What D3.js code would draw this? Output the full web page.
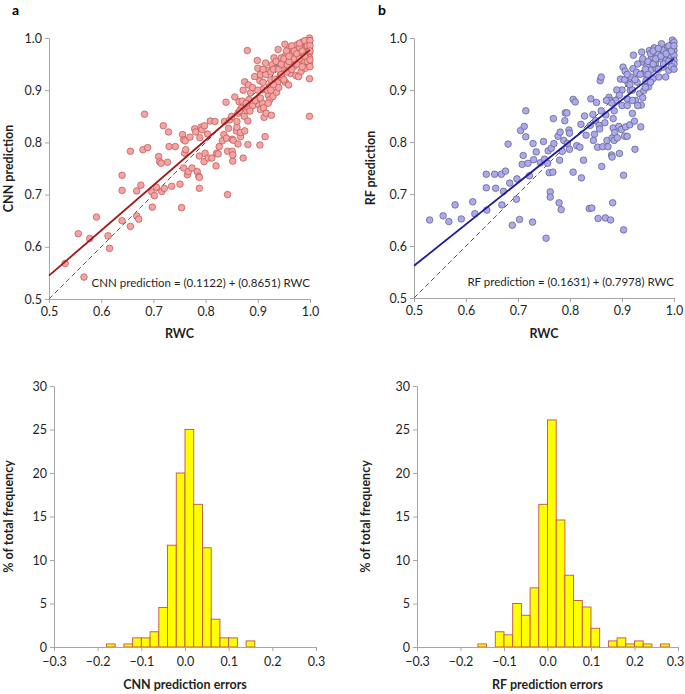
<!DOCTYPE html>
<html>
<head>
<meta charset="utf-8">
<script src="https://cdn.jsdelivr.net/npm/d3@7"></script>
<style>
  body { margin: 0; background: #fff; }
  svg { display: block; font-family: Lato, "Open Sans", sans-serif; }
</style>
</head>
<body>
<svg id="chart" width="685" height="694"></svg>
<script>
// ---------- DATA ----------
// Panel a: CNN prediction vs RWC  [RWC, prediction]
const cnnPoints = [
[0.531,0.568],[0.556,0.625],[0.567,0.542],[0.578,0.616],[0.591,0.657],[0.613,0.621],[0.616,0.597],
[0.640,0.737],[0.640,0.708],[0.640,0.650],[0.656,0.639],[0.656,0.783],[0.668,0.707],[0.668,0.659],
[0.672,0.653],[0.676,0.718],[0.680,0.786],[0.683,0.854],[0.689,0.790],[0.698,0.676],[0.697,0.705],
[0.702,0.698],[0.706,0.714],[0.710,0.773],[0.712,0.763],[0.715,0.760],[0.716,0.706],[0.719,0.832],
[0.721,0.712],[0.727,0.762],[0.729,0.820],[0.730,0.792],[0.735,0.716],[0.742,0.792],[0.751,0.720],
[0.754,0.675],[0.756,0.815],[0.758,0.805],[0.758,0.751],[0.760,0.779],[0.761,0.803],[0.762,0.786],
[0.765,0.738],[0.767,0.744],[0.770,0.810],[0.774,0.751],[0.779,0.826],[0.781,0.820],[0.784,0.744],
[0.787,0.735],[0.788,0.774],[0.788,0.712],[0.788,0.733],[0.789,0.809],[0.791,0.829],[0.793,0.824],
[0.797,0.763],[0.798,0.832],[0.799,0.779],[0.804,0.816],[0.805,0.770],[0.809,0.841],[0.812,0.770],
[0.818,0.840],[0.820,0.755],[0.821,0.779],[0.824,0.778],[0.826,0.792],[0.832,0.803],[0.835,0.815],
[0.836,0.840],[0.839,0.877],[0.840,0.808],[0.842,0.783],[0.842,0.700],[0.844,0.827],[0.846,0.843],
[0.850,0.850],[0.851,0.783],[0.851,0.806],[0.852,0.764],[0.852,0.776],[0.853,0.804],[0.856,0.887],
[0.859,0.822],[0.860,0.829],[0.862,0.797],[0.862,0.856],[0.864,0.878],[0.867,0.811],[0.867,0.819],
[0.870,0.879],[0.872,0.770],[0.875,0.822],[0.874,0.850],[0.875,0.916],[0.879,0.861],[0.880,0.976],
[0.881,0.796],[0.881,0.841],[0.882,0.910],[0.883,0.882],[0.883,0.866],[0.886,0.895],[0.890,0.870],
[0.894,0.926],[0.899,0.957],[0.900,0.942],[0.902,0.872],[0.904,0.918],[0.904,0.795],[0.905,0.863],
[0.909,0.901],[0.909,0.875],[0.911,0.866],[0.912,0.848],[0.914,0.811],[0.915,0.952],[0.916,0.856],
[0.920,0.891],[0.920,0.938],[0.922,0.907],[0.923,0.882],[0.925,0.920],[0.926,0.852],[0.928,0.949],
[0.929,0.888],[0.931,0.962],[0.933,0.921],[0.935,0.942],[0.936,0.896],[0.938,0.914],[0.939,0.978],
[0.941,0.952],[0.943,0.928],[0.945,0.962],[0.947,0.923],[0.949,0.939],[0.952,0.988],[0.953,0.915],
[0.953,0.966],[0.956,0.949],[0.959,0.910],[0.961,0.981],[0.963,0.932],[0.965,0.958],[0.967,0.971],
[0.970,0.946],[0.973,0.928],[0.975,0.987],[0.976,0.965],[0.978,0.926],[0.980,0.981],[0.981,0.952],
[0.983,0.936],[0.985,0.992],[0.987,0.971],[0.989,0.955],[0.991,0.942],[0.993,0.984],[0.994,0.965],
[0.997,0.974],[0.999,1.000],[0.999,0.990],[0.999,0.981],[0.999,0.971],[0.999,0.962],[0.999,0.952],
[0.999,0.922],[0.999,0.850],[0.996,0.994],
[0.905,0.930],[0.910,0.915],[0.915,0.930],[0.918,0.900],[0.920,0.875],[0.925,0.935],[0.930,0.910],
[0.930,0.940],[0.935,0.955],[0.940,0.940],[0.940,0.905],[0.945,0.950],[0.945,0.930],[0.950,0.960],
[0.950,0.920],[0.955,0.975],[0.955,0.935],[0.960,0.955],[0.960,0.965],[0.965,0.940],[0.965,0.985],
[0.970,0.960],[0.970,0.975],[0.975,0.950],[0.975,0.970],[0.980,0.960],[0.980,0.990],[0.985,0.975],
[0.985,0.945],[0.990,0.965],[0.990,0.995],[0.995,0.955],[0.995,0.985],[1.000,0.995],[1.000,0.985],
[1.000,0.975],[1.000,0.958],[1.000,0.945],[0.890,0.905],[0.895,0.880],[0.885,0.860],[0.878,0.875],
[0.872,0.900],[0.868,0.865],[0.860,0.840],[0.865,0.860],[0.900,0.900],[0.905,0.885],[0.910,0.940],
[0.925,0.900]
];
// Panel b: RF prediction vs RWC  [RWC, prediction]
const rfPoints = [
[0.530,0.650],[0.556,0.658],[0.567,0.647],[0.579,0.679],[0.591,0.652],[0.613,0.685],[0.617,0.662],
[0.639,0.738],[0.639,0.712],[0.640,0.669],[0.655,0.738],[0.657,0.711],[0.668,0.738],[0.669,0.679],
[0.672,0.705],[0.676,0.744],[0.681,0.796],[0.684,0.721],[0.689,0.640],[0.697,0.690],[0.698,0.729],
[0.703,0.651],[0.705,0.822],[0.708,0.757],[0.710,0.774],[0.712,0.830],[0.715,0.860],[0.715,0.810],
[0.719,0.759],[0.722,0.735],[0.728,0.646],[0.729,0.797],[0.730,0.766],[0.735,0.781],[0.743,0.760],
[0.749,0.801],[0.751,0.767],[0.754,0.615],[0.757,0.759],[0.758,0.783],[0.760,0.741],[0.762,0.704],
[0.762,0.694],[0.764,0.788],[0.767,0.742],[0.768,0.845],[0.769,0.797],[0.777,0.811],[0.779,0.683],
[0.780,0.765],[0.781,0.819],[0.783,0.670],[0.785,0.782],[0.788,0.803],[0.790,0.841],[0.791,0.856],
[0.794,0.856],[0.795,0.797],[0.798,0.823],[0.799,0.786],[0.799,0.817],[0.806,0.882],[0.806,0.742],
[0.810,0.877],[0.813,0.793],[0.819,0.790],[0.821,0.834],[0.822,0.731],[0.826,0.765],[0.828,0.850],
[0.831,0.813],[0.837,0.672],[0.839,0.832],[0.840,0.883],[0.842,0.673],[0.844,0.853],[0.845,0.803],
[0.847,0.815],[0.849,0.841],[0.851,0.876],[0.853,0.790],[0.854,0.653],[0.856,0.832],[0.857,0.825],
[0.858,0.918],[0.860,0.925],[0.861,0.753],[0.863,0.791],[0.867,0.837],[0.868,0.654],[0.869,0.852],
[0.871,0.803],[0.873,0.791],[0.875,0.886],[0.876,0.880],[0.878,0.650],[0.880,0.775],[0.881,0.808],
[0.881,0.771],[0.882,0.683],[0.883,0.845],[0.883,0.827],[0.885,0.803],[0.886,0.818],[0.888,0.880],
[0.891,0.808],[0.894,0.830],[0.895,0.778],[0.897,0.921],[0.899,0.824],[0.902,0.944],[0.903,0.736],
[0.903,0.631],[0.905,0.811],[0.906,0.936],[0.907,0.829],[0.910,0.883],[0.910,0.811],[0.912,0.912],
[0.915,0.833],[0.916,0.899],[0.917,0.925],[0.920,0.855],[0.921,0.941],[0.922,0.967],[0.924,0.840],
[0.925,0.786],[0.926,0.880],[0.928,0.934],[0.929,0.915],[0.934,0.893],[0.936,0.829],[0.937,0.871],
[0.938,0.973],[0.939,0.954],[0.942,0.899],[0.944,0.931],[0.946,0.918],[0.948,0.947],[0.951,0.906],
[0.953,0.976],[0.955,0.938],[0.957,0.963],[0.960,0.922],[0.962,0.981],[0.964,0.950],[0.966,0.941],
[0.969,0.969],[0.971,0.925],[0.974,0.960],[0.976,0.989],[0.979,0.944],[0.980,0.976],[0.984,0.925],
[0.985,0.957],[0.988,0.983],[0.990,0.938],[0.993,0.966],[0.997,0.996],[1.000,0.976],[1.000,0.967],
[1.000,0.957],[1.000,0.950],[1.000,0.992],
[0.900,0.900],[0.905,0.920],[0.910,0.930],[0.915,0.910],[0.920,0.900],[0.925,0.920],[0.930,0.950],
[0.935,0.930],[0.940,0.960],[0.945,0.940],[0.950,0.955],[0.950,0.930],[0.955,0.970],[0.960,0.950],
[0.960,0.975],[0.965,0.960],[0.970,0.980],[0.970,0.940],[0.975,0.965],[0.980,0.950],[0.985,0.970],
[0.990,0.985],[0.990,0.955],[0.995,0.975],[0.995,0.945],[1.000,0.985],[1.000,0.940],[0.880,0.875],
[0.885,0.860],[0.890,0.900],[0.895,0.890],[0.900,0.870],[0.860,0.860],[0.870,0.880],[0.910,0.870],
[0.920,0.880],[0.930,0.870],[0.940,0.885],[0.945,0.905],[0.955,0.915]
];
// Regression coefficients [intercept, slope]
const cnnFit = [0.1122, 0.8651];
const rfFit = [0.1631, 0.7978];
const scatterTicks = [0.5, 0.6, 0.7, 0.8, 0.9, 1.0];

// Histograms: bin start (width 0.02) and % of total frequency
const binWidth = 0.02;
const cnnBinStarts = [-0.18,-0.16,-0.14,-0.12,-0.10,-0.08,-0.06,-0.04,-0.02,0.00,0.02,0.04,0.06,0.08,0.10,0.12,0.14];
const cnnFreq      = [0.35, 0,    0.35, 1.05, 1.05, 1.75, 4.55, 11.7, 20.0, 25.0, 16.4, 11.4, 3.2,  1.05, 1.05, 0,    0.7];
const rfBinStarts = [-0.16,-0.14,-0.12,-0.10,-0.08,-0.06,-0.04,-0.02,0.00,0.02,0.04,0.06,0.08,0.10,0.12,0.14,0.16,0.18,0.20,0.22,0.24,0.26];
const rfFreq      = [0.35, 0,    1.75, 1.4,  5.0,  3.65, 6.8,  16.4, 26.1, 14.6, 8.25, 5.35, 4.6,  2.15, 0,    0.7,  1.05, 0.35, 0.7,  0.35, 0,    0.35];
const histXTicks = [-0.3,-0.2,-0.1,0.0,0.1,0.2,0.3];
const histYTicks = [0,5,10,15,20,25,30];

// ---------- DRAW ----------
const svg = d3.select("#chart");
const axisColor = "#a6a6a6";
const textColor = "#1f1f1f";
const fmt1 = d3.format(".1f");

function styleAxis(g) {
  g.select(".domain").attr("stroke", axisColor).attr("stroke-width", 1);
  g.selectAll(".tick line").attr("stroke", axisColor);
  g.selectAll(".tick text").attr("fill", textColor).style("font-size", "12.5px")
    .style("font-family", "Lato, 'Open Sans', sans-serif");
}

function scatter(opts) {
  const x = d3.scaleLinear().domain([0.5, 1.0]).range(opts.xr);
  const y = d3.scaleLinear().domain([0.5, 1.0]).range(opts.yr);
  const g = svg.append("g");

  const gx = g.append("g").attr("transform", `translate(0,${opts.yr[0]})`)
    .call(d3.axisBottom(x).tickValues(scatterTicks).tickFormat(fmt1).tickSize(4).tickSizeOuter(0).tickPadding(4));
  styleAxis(gx);
  const gy = g.append("g").attr("transform", `translate(${opts.xr[0]},0)`)
    .call(d3.axisLeft(y).tickValues(scatterTicks).tickFormat(fmt1).tickSize(4).tickSizeOuter(0).tickPadding(3));
  styleAxis(gy);

  // 1:1 dashed line
  g.append("line")
    .attr("x1", x(0.5)).attr("y1", y(0.5)).attr("x2", x(1.0)).attr("y2", y(1.0))
    .attr("stroke", "#595959").attr("stroke-width", 1).attr("stroke-dasharray", "5,3");

  // points
  g.append("g").selectAll("circle").data(opts.data).join("circle")
    .attr("cx", d => x(d[0])).attr("cy", d => y(d[1])).attr("r", 3.3)
    .attr("fill", opts.fill).attr("stroke", opts.stroke).attr("stroke-width", 0.7);

  // regression line
  g.append("line")
    .attr("x1", x(0.5)).attr("y1", y(opts.fit[0] + opts.fit[1] * 0.5))
    .attr("x2", x(1.0)).attr("y2", y(opts.fit[0] + opts.fit[1] * 1.0))
    .attr("stroke", opts.lineColor).attr("stroke-width", 1.8);

  // equation
  g.append("text").attr("x", x(1.0)).attr("y", y(0.5) - 12)
    .attr("text-anchor", "end").attr("fill", textColor).style("font-size", "11.5px")
    .text(opts.eq);

  // axis titles
  g.append("text").attr("x", (opts.xr[0] + opts.xr[1]) / 2).attr("y", 338)
    .attr("text-anchor", "middle").attr("fill", textColor)
    .style("font-size", "12.5px").style("font-weight", "bold").text("RWC");
  g.append("text")
    .attr("transform", `translate(${opts.ytx},${(opts.yr[0] + opts.yr[1]) / 2}) rotate(-90)`)
    .attr("text-anchor", "middle").attr("fill", textColor)
    .style("font-size", "12.5px").style("font-weight", "bold").text(opts.ylabel);

  // panel label
  g.append("text").attr("x", opts.lx).attr("y", 15).attr("fill", "#000")
    .style("font-size", "14px").style("font-weight", "bold").text(opts.label);
}

scatter({ xr: [49, 310], yr: [299, 38], data: cnnPoints, fit: cnnFit,
  fill: "#f5a3a3", stroke: "#b85450", lineColor: "#a01818",
  eq: "CNN prediction = (0.1122) + (0.8651) RWC", ylabel: "CNN prediction", ytx: 13, label: "a", lx: 12 });
scatter({ xr: [414, 674], yr: [298, 38], data: rfPoints, fit: rfFit,
  fill: "#abaaf0", stroke: "#5a5a78", lineColor: "#1c1c96",
  eq: "RF prediction = (0.1631) + (0.7978) RWC", ylabel: "RF prediction", ytx: 375, label: "b", lx: 378 });

function hist(opts) {
  const x = d3.scaleLinear().domain([-0.3, 0.3]).range(opts.xr);
  const y = d3.scaleLinear().domain([0, 30]).range(opts.yr);
  const g = svg.append("g");
  const data = opts.starts.map((s, i) => ({ s, v: opts.freq[i] })).filter(d => d.v > 0);

  g.append("g").selectAll("rect").data(data).join("rect")
    .attr("x", d => x(d.s)).attr("width", d => x(d.s + binWidth) - x(d.s))
    .attr("y", d => y(d.v)).attr("height", d => y(0) - y(d.v))
    .attr("fill", "#ffff00").attr("stroke", "#c0504d").attr("stroke-width", 0.9);

  const gx = g.append("g").attr("transform", `translate(0,${opts.yr[0]})`)
    .call(d3.axisBottom(x).tickValues(histXTicks).tickFormat(fmt1).tickSize(4).tickSizeOuter(0).tickPadding(6));
  styleAxis(gx);
  // keep the last tick label inside the picture
  gx.selectAll(".tick text").filter(d => d === 0.3 && opts.xr[1] > 600).attr("dx", "-3");
  const gy = g.append("g").attr("transform", `translate(${opts.xr[0]},0)`)
    .call(d3.axisLeft(y).tickValues(histYTicks).tickSize(4).tickSizeOuter(0).tickPadding(3));
  styleAxis(gy);

  g.append("text").attr("x", (opts.xr[0] + opts.xr[1]) / 2).attr("y", 689)
    .attr("text-anchor", "middle").attr("fill", textColor)
    .style("font-size", "12.5px").style("font-weight", "bold").text(opts.xlabel);
  g.append("text")
    .attr("transform", `translate(${opts.ytx},${(opts.yr[0] + opts.yr[1]) / 2}) rotate(-90)`)
    .attr("text-anchor", "middle").attr("fill", textColor)
    .style("font-size", "12.5px").style("font-weight", "bold").text("% of total frequency");
}

hist({ xr: [54, 316], yr: [647, 386], starts: cnnBinStarts, freq: cnnFreq, xlabel: "CNN prediction errors", ytx: 13 });
hist({ xr: [417, 678], yr: [647, 386], starts: rfBinStarts, freq: rfFreq, xlabel: "RF prediction errors", ytx: 370 });
</script>
</body>
</html>
